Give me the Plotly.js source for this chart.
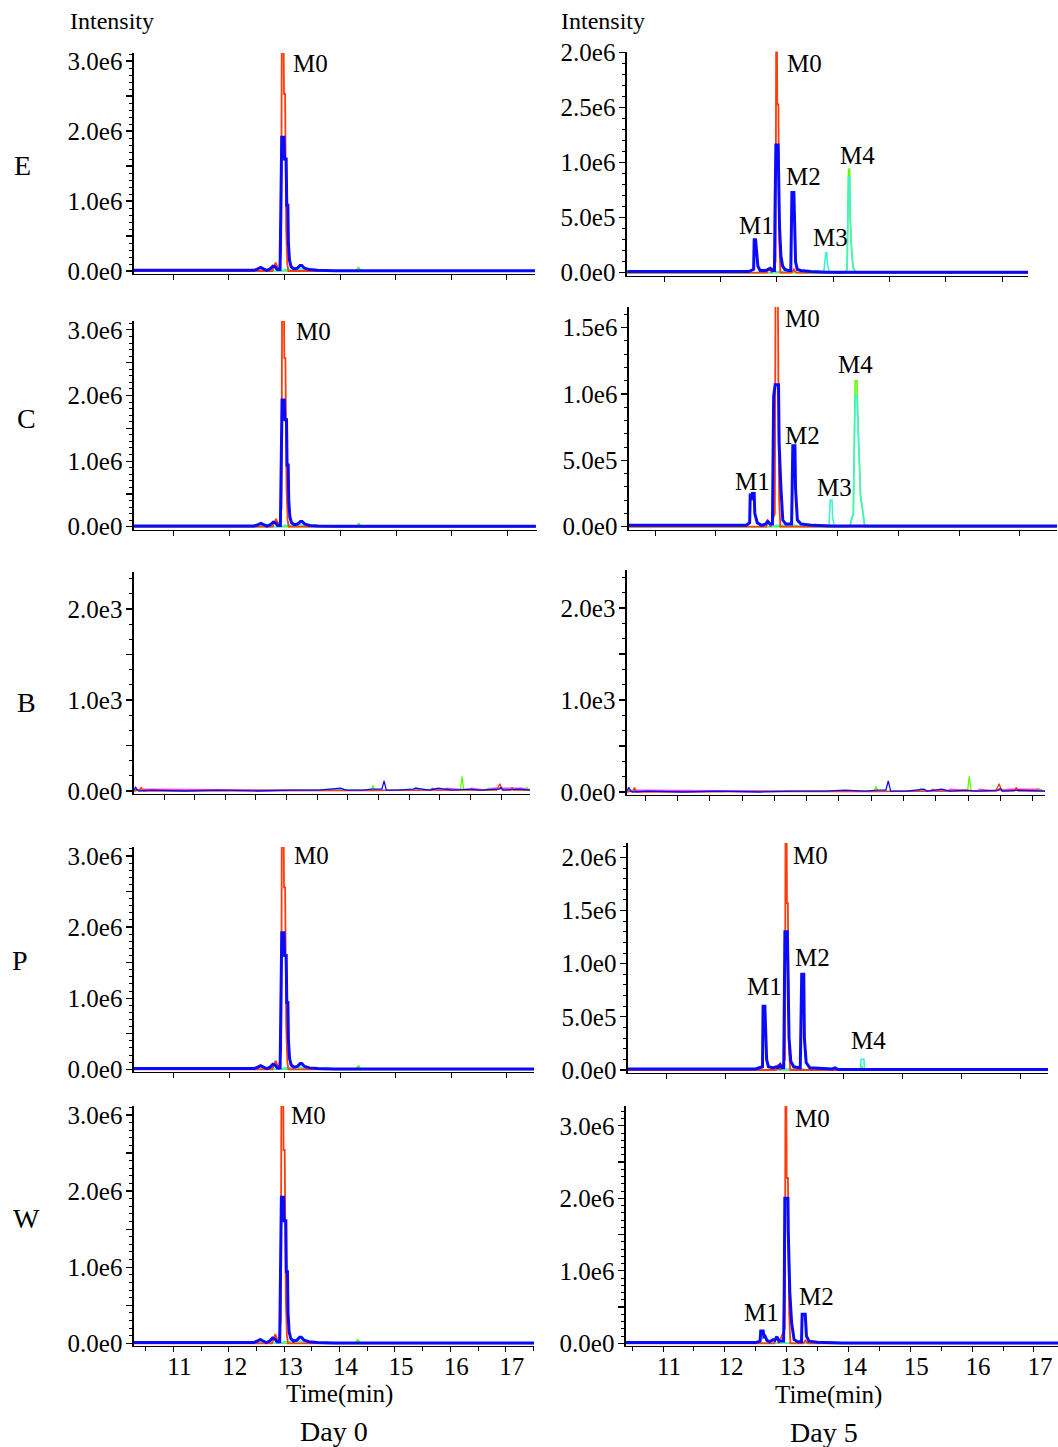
<!DOCTYPE html>
<html><head><meta charset="utf-8">
<script src="https://cdn.plot.ly/plotly-3.0.1.min.js"></script>
<style>html,body{margin:0;padding:0;background:#fff}#chart{width:1058px;height:1447px}</style>
</head><body><div id="chart"></div>
<script>
// ---------------- DATA (time in min; intensity in 1e6 units, B panels in 1e3 units) ----------------
const rowNames = ["E", "C", "B", "P", "W"];
const dayNames = ["Day 0", "Day 5"];
const timeTickVals = [11, 12, 13, 14, 15, 16, 17];
const timeTickText = ["11", "12", "13", "14", "15", "16", "17"];

const tickValsDay0 = [0, 0.5, 1, 1.5, 2, 2.5, 3];
const tickTextDay0 = ["0.0e0", "", "1.0e6", "", "2.0e6", "", "3.0e6"];
const tickValsE5 = [0, 0.5, 1, 1.5, 2];
const tickTextE5 = ["0.0e0", "5.0e5", "1.0e6", "2.5e6", "2.0e6"];
const tickValsC5 = [0, 0.5, 1, 1.5];
const tickTextC5 = ["0.0e0", "5.0e5", "1.0e6", "1.5e6"];
const tickValsP5 = [0, 0.5, 1, 1.5, 2];
const tickTextP5 = ["0.0e0", "5.0e5", "1.0e0", "1.5e6", "2.0e6"];
const tickValsW5 = [0, 0.5, 1, 1.5, 2, 2.5, 3];
const tickTextW5 = ["0.0e0", "", "1.0e6", "", "2.0e6", "", "3.0e6"];
const tickValsB = [0, 0.5, 1, 1.5, 2];
const tickTextB = ["0.0e0", "", "1.0e3", "", "2.0e3"];

// Day 0 panels (shared time grids)
const d0BlueTime = [10.29, 12.45, 12.52, 12.57, 12.62, 12.68, 12.74, 12.79, 12.83, 12.87, 12.92, 12.935, 12.95, 12.99, 13.0, 13.03, 13.04, 13.06, 13.07, 13.09, 13.12, 13.17, 13.23, 13.28, 13.31, 13.36, 13.45, 13.6, 13.9, 17.51];
const E0Blue = [0.01, 0.01, 0.03, 0.05, 0.03, 0.01, 0.03, 0.07, 0.06, 0.02, 0.02, 0.75, 1.91, 1.91, 1.6, 1.6, 0.94, 0.94, 0.4, 0.15, 0.06, 0.03, 0.04, 0.08, 0.08, 0.04, 0.02, 0.01, 0.005, 0.005];
const C0Blue = [0.01, 0.01, 0.03, 0.05, 0.03, 0.01, 0.03, 0.07, 0.06, 0.02, 0.02, 0.76, 1.93, 1.93, 1.63, 1.63, 0.94, 0.94, 0.4, 0.15, 0.06, 0.03, 0.04, 0.08, 0.08, 0.04, 0.02, 0.01, 0.005, 0.005];
const P0Blue = [0.01, 0.01, 0.03, 0.05, 0.03, 0.01, 0.03, 0.07, 0.06, 0.02, 0.02, 0.75, 1.92, 1.92, 1.6, 1.6, 0.94, 0.94, 0.4, 0.15, 0.06, 0.03, 0.04, 0.08, 0.08, 0.04, 0.02, 0.01, 0.005, 0.005];
const W0Blue = [0.01, 0.01, 0.03, 0.05, 0.03, 0.01, 0.03, 0.07, 0.06, 0.02, 0.02, 0.74, 1.92, 1.92, 1.61, 1.61, 0.94, 0.94, 0.4, 0.15, 0.06, 0.03, 0.04, 0.08, 0.08, 0.04, 0.02, 0.01, 0.005, 0.005];
const d0RedTime = [10.29, 12.78, 12.84, 12.9, 12.94, 12.95, 12.985, 12.99, 13.01, 13.03, 13.05, 13.07, 17.51];
const E0Red = [0, 0, 0.12, 0, 0.3, 3.15, 3.15, 2.53, 2.53, 0.6, 0.1, 0, 0];
const C0Red = [0, 0, 0.12, 0, 0.3, 3.2, 3.2, 2.57, 2.57, 0.6, 0.1, 0, 0];
const P0Red = [0, 0, 0.12, 0, 0.3, 3.2, 3.2, 2.56, 2.56, 0.6, 0.1, 0, 0];
const W0Red = [0, 0, 0.12, 0, 0.3, 3.2, 3.2, 2.54, 2.54, 0.6, 0.1, 0, 0];
const d0CyanTime = [10.29, 12.55, 12.6, 12.65, 12.95, 13.0, 13.1, 13.25, 13.3, 13.38, 17.51];
const d0Cyan = [0, 0, 0.02, 0, 0, 0.02, 0.02, 0.02, 0.03, 0, 0];
const d0GreenTime = [10.29, 14.28, 14.33, 14.38, 17.51];
const d0Green = [0, 0, 0.05, 0, 0];

// Day 5 E
const E5BlueTime = [10.34, 12.5, 12.585, 12.595, 12.62, 12.63, 12.66, 12.7, 12.8, 12.84, 12.88, 12.92, 12.955, 12.965, 12.98, 13.02, 13.03, 13.045, 13.07, 13.1, 13.14, 13.2, 13.245, 13.255, 13.265, 13.3, 13.31, 13.33, 13.36, 13.42, 13.6, 13.9, 17.46];
const E5Blue = [0.01, 0.01, 0.03, 0.3, 0.3, 0.24, 0.06, 0.02, 0.02, 0.03, 0.04, 0.02, 0.02, 0.55, 1.16, 1.16, 0.57, 0.42, 0.15, 0.06, 0.03, 0.02, 0.02, 0.44, 0.73, 0.73, 0.45, 0.1, 0.03, 0.02, 0.01, 0.005, 0.005];
const E5RedTime = [10.34, 12.82, 12.86, 12.9, 12.975, 12.985, 13.0, 13.005, 13.025, 13.04, 13.06, 13.26, 13.3, 13.34, 17.46];
const E5Red = [0, 0, 0.04, 0, 0.1, 2.05, 2.05, 1.53, 1.53, 0.3, 0, 0, 0.03, 0, 0];
const E5CyanTime = [10.34, 12.9, 13.0, 13.3, 13.4, 13.83, 13.855, 13.865, 13.885, 13.895, 13.93, 14.2, 14.245, 14.26, 14.27, 14.29, 14.3, 14.32, 14.35, 14.4, 17.46];
const E5Cyan = [0, 0, 0.01, 0.01, 0, 0, 0.12, 0.18, 0.18, 0.08, 0, 0, 0.03, 0.8, 0.87, 0.87, 0.5, 0.25, 0.05, 0, 0];
const E5GreenTime = [10.34, 14.2, 14.245, 14.26, 14.27, 14.29, 14.3, 14.32, 14.35, 14.4, 17.46];
const E5Green = [0, 0, 0.03, 0.8, 0.94, 0.94, 0.5, 0.25, 0.05, 0, 0];

// Day 5 C
const C5BlueTime = [10.57, 12.5, 12.555, 12.565, 12.58, 12.6, 12.63, 12.64, 12.68, 12.75, 12.82, 12.85, 12.89, 12.93, 12.95, 12.975, 13.03, 13.04, 13.07, 13.1, 13.15, 13.245, 13.255, 13.265, 13.3, 13.31, 13.34, 13.4, 13.6, 13.9, 17.61];
const C5Blue = [0.01, 0.01, 0.03, 0.25, 0.2, 0.25, 0.25, 0.1, 0.03, 0.01, 0.02, 0.04, 0.02, 0.02, 0.98, 1.07, 1.07, 0.63, 0.29, 0.05, 0.02, 0.02, 0.29, 0.61, 0.61, 0.29, 0.05, 0.02, 0.01, 0.005, 0.005];
const C5RedTime = [10.57, 12.83, 12.86, 12.9, 12.97, 12.98, 13.02, 13.04, 13.06, 17.61];
const C5Red = [0, 0, 0.05, 0, 0.1, 1.7, 1.7, 0.2, 0, 0];
const C5CyanTime = [10.57, 12.9, 13.0, 13.3, 13.4, 13.86, 13.88, 13.91, 13.92, 13.95, 14.2, 14.26, 14.29, 14.32, 14.34, 14.38, 14.45, 17.61];
const C5Cyan = [0, 0, 0.01, 0.01, 0, 0, 0.2, 0.2, 0.07, 0, 0, 0.1, 0.99, 0.99, 0.73, 0.23, 0, 0];
const C5GreenTime = [10.57, 14.2, 14.26, 14.285, 14.29, 14.32, 14.34, 14.38, 14.45, 17.61];
const C5Green = [0, 0, 0.1, 0.7, 1.1, 1.1, 0.73, 0.23, 0, 0];

// Day 5 P
const P5BlueTime = [10.34, 12.5, 12.62, 12.63, 12.66, 12.67, 12.69, 12.72, 12.8, 12.85, 12.88, 12.92, 12.95, 12.98, 12.985, 13.0, 13.04, 13.05, 13.07, 13.1, 13.15, 13.26, 13.27, 13.285, 13.32, 13.33, 13.36, 13.42, 13.8, 13.85, 13.9, 17.46];
const P5Blue = [0.01, 0.01, 0.03, 0.6, 0.6, 0.33, 0.1, 0.03, 0.02, 0.03, 0.02, 0.05, 0.02, 0.02, 0.55, 1.3, 1.3, 1.03, 0.3, 0.08, 0.03, 0.02, 0.31, 0.9, 0.9, 0.3, 0.07, 0.02, 0.01, 0.02, 0.005, 0.005];
const P5RedTime = [10.34, 12.85, 12.88, 12.92, 13.0, 13.01, 13.03, 13.035, 13.05, 13.07, 13.09, 17.46];
const P5Red = [0, 0, 0.05, 0, 0.1, 2.2, 2.2, 1.57, 1.57, 0.2, 0, 0];
const P5CyanTime = [10.34, 12.9, 13.0, 13.3, 13.4, 14.28, 14.29, 14.34, 14.35, 17.46];
const P5Cyan = [0, 0, 0.01, 0.01, 0, 0, 0.1, 0.1, 0, 0];
const P5GreenTime = [10.34, 14.27, 14.3, 14.33, 17.46];
const P5Green = [0, 0, 0.04, 0, 0];

// Day 5 W
const W5BlueTime = [10.34, 12.5, 12.57, 12.58, 12.62, 12.63, 12.65, 12.68, 12.72, 12.78, 12.81, 12.84, 12.88, 12.95, 12.96, 12.97, 13.02, 13.025, 13.05, 13.08, 13.12, 13.18, 13.24, 13.25, 13.3, 13.32, 13.36, 13.5, 13.9, 17.39];
const W5Blue = [0.01, 0.01, 0.03, 0.17, 0.17, 0.09, 0.1, 0.04, 0.02, 0.05, 0.04, 0.09, 0.03, 0.03, 0.67, 2.0, 2.0, 1.56, 0.71, 0.28, 0.05, 0.02, 0.02, 0.4, 0.4, 0.1, 0.03, 0.015, 0.005, 0.005];
const W5RedTime = [10.34, 12.8, 12.83, 12.87, 12.97, 12.98, 12.995, 13.0, 13.02, 13.04, 13.06, 13.27, 13.3, 13.34, 17.39];
const W5Red = [0, 0, 0.1, 0, 0.2, 3.35, 3.35, 2.28, 2.28, 0.4, 0, 0, 0.04, 0, 0];
const W5CyanTime = [10.34, 12.8, 13.0, 13.3, 13.4, 17.39];
const W5Cyan = [0, 0, 0.01, 0.01, 0, 0];
const W5GreenTime = [10.34, 17.39];
const W5Green = [0, 0];

// Blank (B) panels, 1e3 units
const B0BlueTime = [10.29, 10.32, 10.35, 10.38, 10.6, 11.2, 11.8, 12.5, 13.1, 13.6, 14.0, 14.1, 14.4, 14.55, 14.74, 14.78, 14.82, 15.0, 15.3, 15.35, 15.6, 15.75, 16.0, 16.3, 16.5, 16.85, 16.88, 16.92, 17.2, 17.4];
const B0Blue = [0.01, 0.04, 0.01, 0.0, 0.01, 0.0, 0.01, 0.0, 0.01, 0.01, 0.03, 0.01, 0.01, 0.02, 0.02, 0.11, 0.01, 0.01, 0.02, 0.03, 0.01, 0.03, 0.01, 0.02, 0.01, 0.02, 0.04, 0.01, 0.02, 0.01];
const B0GreenTime = [10.29, 10.35, 10.4, 12.0, 12.05, 14.0, 14.55, 14.58, 14.61, 15.3, 15.35, 15.4, 16.15, 16.18, 16.21, 16.6, 16.65, 17.3, 17.33, 17.4];
const B0Green = [0.01, 0.02, 0.005, 0.005, 0.015, 0.01, 0.01, 0.06, 0.01, 0.01, 0.04, 0.01, 0.01, 0.16, 0.01, 0.01, 0.03, 0.01, 0.04, 0.01];
const B0RedTime = [10.29, 10.38, 10.42, 10.46, 14.0, 15.6, 15.65, 15.7, 16.8, 16.86, 16.9, 17.05, 17.08, 17.1, 17.4];
const B0Red = [0, 0.01, 0.04, 0.0, 0.005, 0.01, 0.03, 0.01, 0.01, 0.08, 0.01, 0.01, 0.04, 0.01, 0.01];
const B0MagentaTime = [10.29, 10.45, 14.5, 15.5, 15.85, 15.9, 16.3, 16.35, 16.6, 16.75, 17.25, 17.4];
const B0Magenta = [0.01, 0.02, 0.005, 0.01, 0.01, 0.03, 0.01, 0.03, 0.01, 0.03, 0.03, 0.01];

const B5BlueTime = [10.34, 10.37, 10.4, 10.43, 10.7, 11.3, 11.9, 12.6, 13.2, 13.7, 14.05, 14.4, 14.6, 14.75, 14.79, 14.83, 15.1, 15.4, 15.45, 15.7, 15.85, 16.1, 16.3, 16.66, 16.7, 16.74, 17.0, 17.46];
const B5Blue = [0.01, 0.05, 0.01, 0.0, 0.01, 0.0, 0.01, 0.0, 0.01, 0.01, 0.02, 0.01, 0.02, 0.02, 0.12, 0.01, 0.01, 0.03, 0.01, 0.03, 0.01, 0.02, 0.01, 0.02, 0.04, 0.01, 0.02, 0.01];
const B5GreenTime = [10.34, 10.4, 10.45, 12.0, 12.05, 14.0, 14.55, 14.58, 14.61, 15.3, 15.35, 15.4, 16.14, 16.17, 16.2, 16.6, 16.65, 17.3, 17.33, 17.46];
const B5Green = [0.01, 0.03, 0.005, 0.005, 0.015, 0.01, 0.01, 0.06, 0.01, 0.01, 0.04, 0.01, 0.01, 0.17, 0.01, 0.01, 0.03, 0.01, 0.04, 0.01];
const B5RedTime = [10.34, 10.44, 10.47, 10.5, 14.0, 15.5, 15.55, 15.6, 16.62, 16.68, 16.72, 16.94, 16.97, 17.0, 17.46];
const B5Red = [0, 0.01, 0.05, 0.0, 0.005, 0.01, 0.03, 0.01, 0.01, 0.09, 0.01, 0.01, 0.05, 0.01, 0.01];
const B5MagentaTime = [10.34, 10.5, 14.5, 15.4, 15.8, 15.85, 16.3, 16.35, 16.6, 16.85, 17.3, 17.46];
const B5Magenta = [0.01, 0.02, 0.005, 0.01, 0.01, 0.03, 0.01, 0.03, 0.01, 0.03, 0.03, 0.01];

// ---------------- LAYOUT / STYLE ----------------
const W = 1058, H = 1447;
const fx = p => p / W, fy = p => 1 - p / H;
const FONT = "'Liberation Serif', 'Times New Roman', serif";
const COL = {blue: '#0a0aff', red: '#ff3c0a', cyan: '#3ff2d2', green: '#5cff00', magenta: '#ff40d0'};

const panels = [
  {row: 0, col: 0, px: [134, 535], range: [10.29, 17.51], ytop: 53, yzero: 271, ppu: 70, tv: tickValsDay0, tt: tickTextDay0, minor: 0.1,
   series: [[d0GreenTime, d0Green, 'green'], [d0CyanTime, d0Cyan, 'cyan'], [d0RedTime, E0Red, 'red'], [d0BlueTime, E0Blue, 'blue']]},
  {row: 1, col: 0, px: [134, 537], range: [10.29, 17.53], ytop: 321, yzero: 526.7, ppu: 65.6, tv: tickValsDay0, tt: tickTextDay0, minor: 0.1,
   series: [[d0GreenTime, d0Green, 'green'], [d0CyanTime, d0Cyan, 'cyan'], [d0RedTime, C0Red, 'red'], [d0BlueTime, C0Blue, 'blue']]},
  {row: 2, col: 0, px: [134, 530], range: [10.29, 17.4], ytop: 572, yzero: 791, ppu: 91, tv: tickValsB, tt: tickTextB, minor: 1 / 6, blank: true, xt0: 10.83, xdt: 0.55,
   series: [[B0GreenTime, B0Green, 'green'], [B0MagentaTime, B0Magenta, 'magenta'], [B0RedTime, B0Red, 'red'], [B0BlueTime, B0Blue, 'blue']]},
  {row: 3, col: 0, px: [134, 534], range: [10.29, 17.49], ytop: 847, yzero: 1069.3, ppu: 71.1, tv: tickValsDay0, tt: tickTextDay0, minor: 0.1,
   series: [[d0GreenTime, d0Green, 'green'], [d0CyanTime, d0Cyan, 'cyan'], [d0RedTime, P0Red, 'red'], [d0BlueTime, P0Blue, 'blue']]},
  {row: 4, col: 0, px: [134, 534], range: [10.29, 17.51], ytop: 1106, yzero: 1343.3, ppu: 76.1, tv: tickValsDay0, tt: tickTextDay0, minor: 0.1, bottom: true,
   series: [[d0GreenTime, d0Green, 'green'], [d0CyanTime, d0Cyan, 'cyan'], [d0RedTime, W0Red, 'red'], [d0BlueTime, W0Blue, 'blue']]},
  {row: 0, col: 1, px: [627, 1028], range: [10.336, 17.458], ytop: 51.5, yzero: 272.7, ppu: 110, tv: tickValsE5, tt: tickTextE5, minor: 0.1,
   series: [[E5GreenTime, E5Green, 'green'], [E5CyanTime, E5Cyan, 'cyan'], [E5RedTime, E5Red, 'red'], [E5BlueTime, E5Blue, 'blue']]},
  {row: 1, col: 1, px: [629, 1057], range: [10.571, 17.61], ytop: 307, yzero: 526.7, ppu: 132.7, tv: tickValsC5, tt: tickTextC5, minor: 0.1,
   series: [[C5GreenTime, C5Green, 'green'], [C5CyanTime, C5Cyan, 'cyan'], [C5RedTime, C5Red, 'red'], [C5BlueTime, C5Blue, 'blue']]},
  {row: 2, col: 1, px: [627, 1045], range: [10.34, 17.46], ytop: 570, yzero: 792, ppu: 92, tv: tickValsB, tt: tickTextB, minor: 1 / 6, blank: true, xt0: 10.65, xdt: 0.55,
   series: [[B5GreenTime, B5Green, 'green'], [B5MagentaTime, B5Magenta, 'magenta'], [B5RedTime, B5Red, 'red'], [B5BlueTime, B5Blue, 'blue']]},
  {row: 3, col: 1, px: [628, 1048], range: [10.34, 17.46], ytop: 843, yzero: 1070, ppu: 106.3, tv: tickValsP5, tt: tickTextP5, minor: 0.1,
   series: [[P5GreenTime, P5Green, 'green'], [P5CyanTime, P5Cyan, 'cyan'], [P5RedTime, P5Red, 'red'], [P5BlueTime, P5Blue, 'blue']]},
  {row: 4, col: 1, px: [626, 1058], range: [10.40, 17.39], ytop: 1106, yzero: 1343.3, ppu: 72.5, tv: tickValsW5, tt: tickTextW5, minor: 0.1, bottom: true,
   series: [[W5GreenTime, W5Green, 'green'], [W5CyanTime, W5Cyan, 'cyan'], [W5RedTime, W5Red, 'red'], [W5BlueTime, W5Blue, 'blue']]}
];

const widths = {blue: 3, red: 1.8, cyan: 1.6, green: 1.6, magenta: 1.2};
const traces = [];
const layout = {
  width: W, height: H, margin: {l: 0, r: 0, t: 0, b: 0},
  paper_bgcolor: '#fff', plot_bgcolor: 'rgba(0,0,0,0)', showlegend: false,
  font: {family: FONT, size: 25, color: '#000'}, annotations: []
};

panels.forEach((p, i) => {
  const k = i + 1, xs = k === 1 ? '' : String(k);
  p.series.forEach(s => {
    traces.push({
      type: 'scatter', mode: 'lines', x: s[0], y: s[1], xaxis: 'x' + xs, yaxis: 'y' + xs,
      line: {color: COL[s[2]], width: p.blank ? 1.3 : widths[s[2]]}, hoverinfo: 'skip'
    });
  });
  const ybot = p.yzero + 3;
  const xa = {
    domain: [fx(p.px[0]), fx(p.px[1])], range: p.range, anchor: 'y' + xs,
    showline: true, linecolor: '#000', linewidth: 1, mirror: false,
    showgrid: false, zeroline: false, ticks: 'outside', ticklen: 5, tickwidth: 1, tickcolor: '#000',
    tickmode: 'linear', tick0: p.blank ? p.xt0 : 11, dtick: p.blank ? p.xdt : 1,
    showticklabels: !!p.bottom, tickfont: {family: FONT, size: 25, color: '#000'},
    ticklabelshift: 6, ticklabelstandoff: -7, fixedrange: true
  };
  if (p.bottom) {
    xa.tickmode = 'array'; xa.tickvals = timeTickVals; xa.ticktext = timeTickText;
    xa.minor = {dtick: 0.5, tick0: 11, ticks: 'outside', ticklen: 4, tickcolor: '#000', showgrid: false};
  }
  layout['xaxis' + xs] = xa;
  layout['yaxis' + xs] = {
    domain: [fy(ybot), fy(p.ytop)], range: [-(ybot - p.yzero) / p.ppu, (p.yzero - p.ytop) / p.ppu], anchor: 'x' + xs,
    showline: true, linecolor: '#000', linewidth: 1.6, showgrid: false, zeroline: false,
    ticks: 'outside', ticklen: 6, tickwidth: 1.2, tickcolor: '#000',
    tickmode: 'array', tickvals: p.tv, ticktext: p.tt, ticklabelstandoff: -1,
    tickfont: {family: FONT, size: 25, color: '#000'}, fixedrange: true,
    minor: {dtick: p.minor, tick0: 0, ticks: 'outside', ticklen: 3, tickcolor: '#000', tickwidth: 1, showgrid: false}
  };
});

function ann(text, x, y, size) {
  layout.annotations.push({text: text, x: fx(x), y: fy(y), xref: 'paper', yref: 'paper', showarrow: false,
    xanchor: 'center', yanchor: 'middle', borderpad: 0, font: {family: FONT, size: size || 25, color: '#000'}});
}
ann('Intensity', 112, 21, 24);
ann('Intensity', 603, 21, 24);
const rowLabelPos = [[22, 166], [26, 418], [26, 702], [20, 960], [26, 1218]];
rowNames.forEach((r, i) => ann(r, rowLabelPos[i][0], rowLabelPos[i][1], 28));
ann('Time(min)', 339, 1394, 25);
ann('Time(min)', 828, 1395, 25);
ann(dayNames[0], 334, 1431, 28);
ann(dayNames[1], 824, 1432, 28);

const peakLabels = [
  ['M0', 310, 63], ['M0', 313, 331], ['M0', 311, 855], ['M0', 308, 1115],
  ['M0', 804, 63], ['M1', 756, 225], ['M2', 803, 177], ['M3', 830, 238], ['M4', 857, 155],
  ['M0', 802, 318], ['M1', 752, 482], ['M2', 802, 435], ['M3', 834, 487], ['M4', 855, 365],
  ['M0', 810, 855], ['M1', 764, 986], ['M2', 812, 957], ['M4', 868, 1040],
  ['M0', 812, 1118], ['M1', 761, 1312], ['M2', 816, 1296]
];
peakLabels.forEach(m => ann(m[0], m[1], m[2], 25));

Plotly.newPlot('chart', traces, layout, {staticPlot: true, displayModeBar: false});
</script></body></html>
